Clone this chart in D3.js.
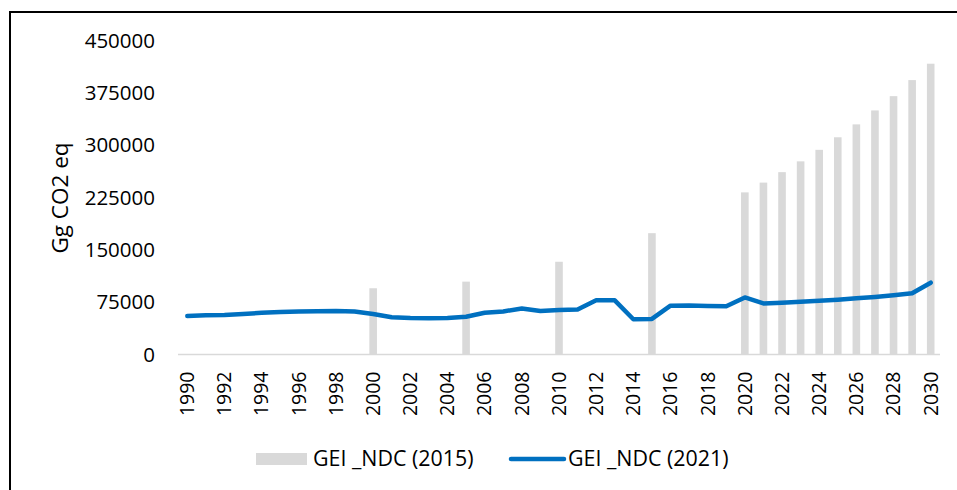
<!DOCTYPE html>
<html>
<head>
<meta charset="utf-8">
<script src="https://cdn.jsdelivr.net/npm/d3@7"></script>
<style>
  body { margin: 0; background: #fff; }
  svg { display: block; font-family: "Open Sans", sans-serif; }
</style>
</head>
<body>
<div id="chart"></div>
<script>
// years on the x axis
var years = d3.range(1990, 2031);

// GEI _NDC (2015) — bars only where the 2015 NDC gave values
var ndc2015Years = [2000, 2005, 2010, 2015, 2020, 2021, 2022, 2023, 2024, 2025, 2026, 2027, 2028, 2029, 2030];
var ndc2015Values = [95000, 104500, 133000, 174000, 232500, 246500, 261500, 277000, 293500, 311500, 330000, 350000, 370500, 393500, 417000];

// GEI _NDC (2021) — line, one value per year
var ndc2021Values = [
  55200, 56200, 56800, 58200, 59800, 61000, 61800, 62200, 62400, 61600,
  58200, 53400, 52200, 51900, 52300, 54200, 59900, 61800, 66000, 62400,
  63800, 64600, 77700, 77700, 50600, 51000, 70000, 70200, 69600, 69100,
  81800, 73200, 74300, 75800, 77200, 78600, 80500, 82500, 84900, 87800,
  103000
];

var yTicks = [0, 75000, 150000, 225000, 300000, 375000, 450000];

var barData = ndc2015Years.map((y, i) => ({year: y, value: ndc2015Values[i]}));
var lineData = years.map((y, i) => ({year: y, value: ndc2021Values[i]}));

var width = 957,
    height = 490;

var svg = d3.select("#chart").append("svg")
    .attr("width", width)
    .attr("height", height);

// outer frame (right and bottom edges fall outside the picture)
svg.append("rect")
    .attr("x", 10)
    .attr("y", 12)
    .attr("width", 980)
    .attr("height", 520)
    .attr("fill", "none")
    .attr("stroke", "#000")
    .attr("stroke-width", 2);

var xScale = d3.scaleBand()
    .domain(years)
    .range([178, 940]);

var yScale = d3.scaleLinear()
    .domain([0, 450000])
    .range([354.5, 40.7]);

// bars
svg.selectAll("rect.bar")
    .data(barData)
    .enter()
    .append("rect")
    .attr("class", "bar")
    .attr("x", d => xScale(d.year) + xScale.bandwidth() / 2 - 3.8)
    .attr("width", 7.6)
    .attr("y", d => yScale(d.value))
    .attr("height", d => yScale(0) - yScale(d.value))
    .attr("fill", "#D9D9D9");

// x baseline
svg.append("line")
    .attr("x1", 178)
    .attr("x2", 940)
    .attr("y1", yScale(0))
    .attr("y2", yScale(0))
    .attr("stroke", "#D9D9D9")
    .attr("stroke-width", 1.5);

// y tick labels
var yAxis = d3.axisLeft(yScale)
    .tickValues(yTicks)
    .tickFormat(d => d)
    .tickSize(0)
    .tickPadding(0);

svg.append("g")
    .attr("transform", "translate(155,0)")
    .call(yAxis)
    .call(g => g.select(".domain").remove())
    .selectAll("text")
    .attr("font-size", "20.5px")
    .attr("font-family", "Open Sans, sans-serif")
    .attr("fill", "#000");

// x tick labels, rotated
var xAxis = d3.axisBottom(xScale)
    .tickValues(years.filter(y => y % 2 === 0))
    .tickSize(0)
    .tickPadding(0);

svg.append("g")
    .attr("transform", "translate(0," + yScale(0) + ")")
    .call(xAxis)
    .call(g => g.select(".domain").remove())
    .selectAll("text")
    .attr("font-size", "19.5px")
    .attr("font-family", "Open Sans, sans-serif")
    .attr("fill", "#000")
    .attr("text-anchor", "end")
    .attr("dy", "0.35em")
    .attr("transform", "translate(0,17) rotate(-90)")
    .attr("y", 0);

// line
var line = d3.line()
    .x(d => xScale(d.year) + xScale.bandwidth() / 2)
    .y(d => yScale(d.value));

svg.append("path")
    .datum(lineData)
    .attr("d", line)
    .attr("fill", "none")
    .attr("stroke", "#0070C0")
    .attr("stroke-width", 4.5)
    .attr("stroke-linejoin", "round")
    .attr("stroke-linecap", "round");

// y axis title
svg.append("text")
    .attr("transform", "translate(68,198) rotate(-90)")
    .attr("text-anchor", "middle")
    .attr("font-size", "22.5px")
    .attr("fill", "#000")
    .text("Gg CO2 eq");

// legend
var legend = svg.append("g");

legend.append("rect")
    .attr("x", 256)
    .attr("y", 453)
    .attr("width", 51)
    .attr("height", 12)
    .attr("fill", "#D9D9D9");

legend.append("text")
    .attr("x", 313)
    .attr("y", 459)
    .attr("dy", "0.35em")
    .attr("font-size", "21.4px")
    .attr("fill", "#000")
    .text("GEI _NDC (2015)");

legend.append("line")
    .attr("x1", 511)
    .attr("x2", 564)
    .attr("y1", 459)
    .attr("y2", 459)
    .attr("stroke", "#0070C0")
    .attr("stroke-width", 4.5)
    .attr("stroke-linecap", "round");

legend.append("text")
    .attr("x", 568)
    .attr("y", 459)
    .attr("dy", "0.35em")
    .attr("font-size", "21.4px")
    .attr("fill", "#000")
    .text("GEI _NDC (2021)");
</script>
</body>
</html>
